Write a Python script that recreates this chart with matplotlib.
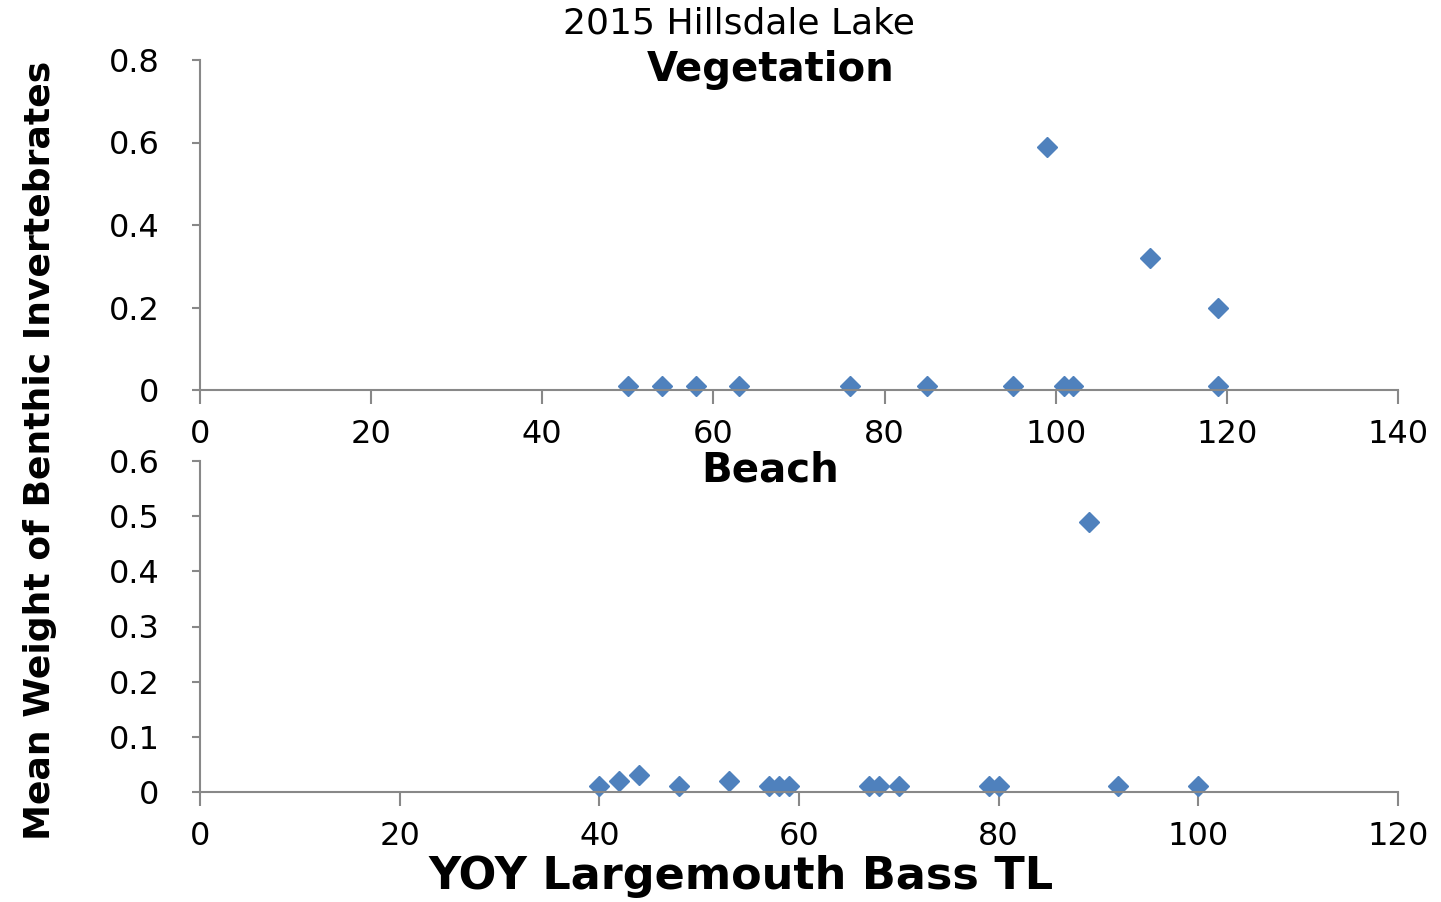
#Grafica de dispersion: peso medio de invertebrados vs longitud de lobina
import numpy as np
import matplotlib.pyplot as plt

plt.rcParams['font.family'] = ['DejaVu Sans']

#Datos de vegetacion
x_veg = [50, 54, 58, 63, 76, 85, 95, 101, 102, 99, 111, 119, 119]
y_veg = [0.01, 0.01, 0.01, 0.01, 0.01, 0.01, 0.01, 0.01, 0.01, 0.59, 0.32, 0.20, 0.01]

#Datos de playa
x_beach = [40, 42, 44, 48, 53, 57, 58, 59, 67, 68, 70, 79, 80, 89, 92, 100]
y_beach = [0.01, 0.02, 0.03, 0.01, 0.02, 0.01, 0.01, 0.01, 0.01, 0.01, 0.01, 0.01, 0.01, 0.49, 0.01, 0.01]

xt_veg = [0, 20, 40, 60, 80, 100, 120, 140]
yt_veg = [0, 0.2, 0.4, 0.6, 0.8]
xt_beach = [0, 20, 40, 60, 80, 100, 120]
yt_beach = [0, 0.1, 0.2, 0.3, 0.4, 0.5, 0.6]

azul = '#4F81BD'
gris = '#888888'
W, H = 1441, 902

fig = plt.figure(figsize=(W/100, H/100), dpi=100)
ax1 = fig.add_axes([200/W, 1-390/H, 1198/W, 330/H])
ax2 = fig.add_axes([200/W, 1-792/H, 1198/W, 331/H])

def estilo(ax, xt, yt, ylab):
	for s in ['top', 'right']:
		ax.spines[s].set_visible(False)
	for s in ['left', 'bottom']:
		ax.spines[s].set_color(gris)
		ax.spines[s].set_linewidth(1.5)
	ax.set_xlim(xt[0], xt[-1])
	ax.set_ylim(yt[0], yt[-1])
	ax.set_xticks(xt)
	ax.set_yticks(yt)
	ax.set_yticklabels(ylab)
	ax.tick_params(axis='x', direction='out', length=10, width=1.5, color=gris,
		labelsize=23, pad=11)
	ax.tick_params(axis='y', direction='out', length=6, width=1.5, color=gris,
		labelsize=23, pad=23)

ax1.plot(x_veg, y_veg, 'D', color=azul, ms=10, clip_on=False)
estilo(ax1, xt_veg, yt_veg, ['0', '0.2', '0.4', '0.6', '0.8'])
ax1.text(0.476, 0.97, 'Vegetation', transform=ax1.transAxes, ha='center', va='center',
	fontsize=29, fontweight='bold')

ax2.plot(x_beach, y_beach, 'D', color=azul, ms=10, clip_on=False)
estilo(ax2, xt_beach, yt_beach, ['0', '0.1', '0.2', '0.3', '0.4', '0.5', '0.6'])
ax2.text(0.476, 0.97, 'Beach', transform=ax2.transAxes, ha='center', va='center',
	fontsize=29, fontweight='bold')

fig.text(739/W, 1-24/H, '2015 Hillsdale Lake', ha='center', va='center', fontsize=26)
fig.text(741/W, 1-876/H, 'YOY Largemouth Bass TL', ha='center', va='center',
	fontsize=32, fontweight='bold')
fig.text(40/W, 1-450/H, 'Mean Weight of Benthic Invertebrates', ha='center', va='center',
	rotation=90, fontsize=26, fontweight='bold')

plt.savefig('out.png', dpi=100)
